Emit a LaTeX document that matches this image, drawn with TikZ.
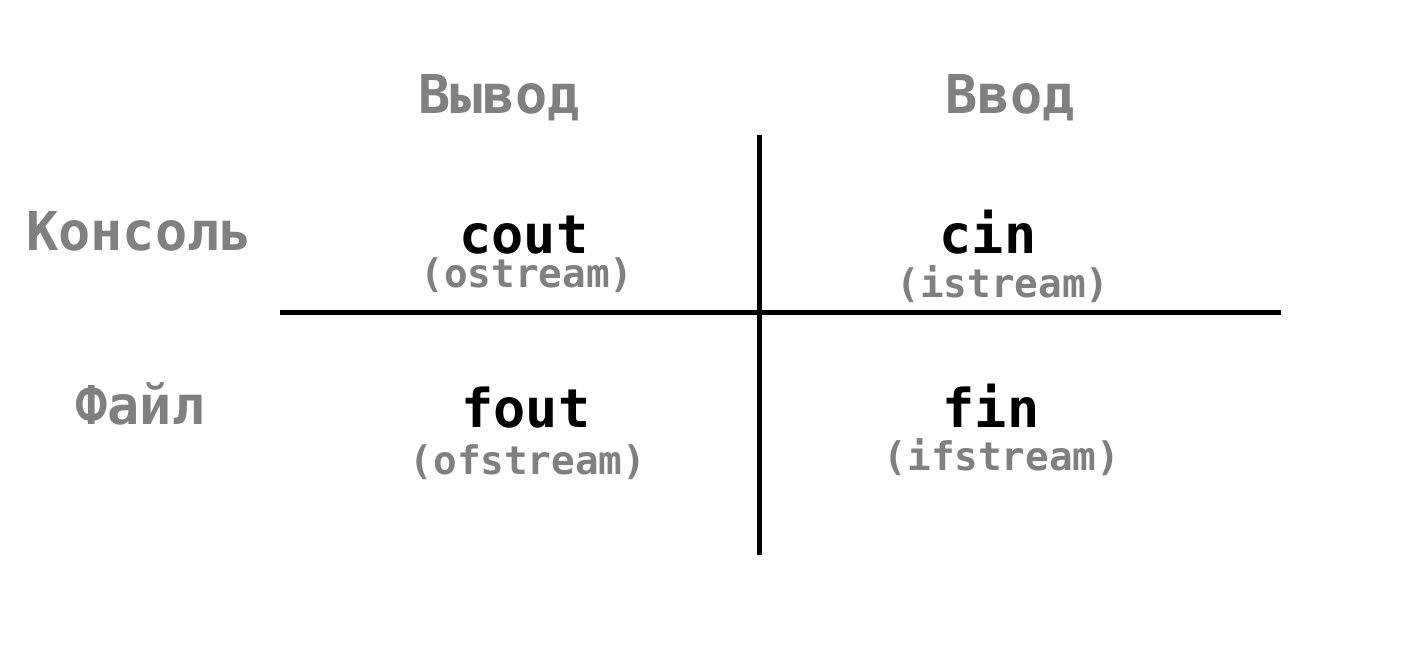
\documentclass[tikz,border=0pt]{standalone}
\usepackage{fontspec}
\setmonofont{DejaVu Sans Mono}
\definecolor{headgray}{HTML}{808080}
\tikzset{
  big/.style={inner sep=0pt, anchor=base, font=\ttfamily\bfseries\fontsize{53.5}{60}\selectfont},
  small/.style={inner sep=0pt, anchor=base, font=\ttfamily\bfseries\fontsize{39.3}{44}\selectfont, text=headgray},
  head/.style={big, text=headgray},
  code/.style={big, text=black},
  rule/.style={line width=5pt, draw=black}
}
\begin{document}
\begin{tikzpicture}[x=1pt,y=-1pt]
\useasboundingbox (0,0) rectangle (1428,672);
\node[head] (out) at (499,113) {Вывод};
\node[head] (in) at (1010,113) {Ввод};
\node[head] (con) at (139,250) {Консоль};
\node[head] (file) at (140,424) {Файл};
\node[code] (cout) at (524,253) {cout};
\node[small] (ost) at (527,287) {(ostream)};
\node[code] (cin) at (988,253) {cin};
\node[small] (ist) at (1003,297) {(istream)};
\node[code] (fout) at (526,427) {fout};
\node[small] (ofst) at (528,474) {(ofstream)};
\node[code] (fin) at (991,427) {fin};
\node[small] (ifst) at (1002,470) {(ifstream)};
\coordinate (hl) at (280,312.5);
\coordinate (hr) at (1281,312.5);
\coordinate (vt) at (759.5,135);
\coordinate (vb) at (759.5,555);
\draw[rule] (hl) -- (hr);
\draw[rule] (vt) -- (vb);
\end{tikzpicture}
\end{document}
